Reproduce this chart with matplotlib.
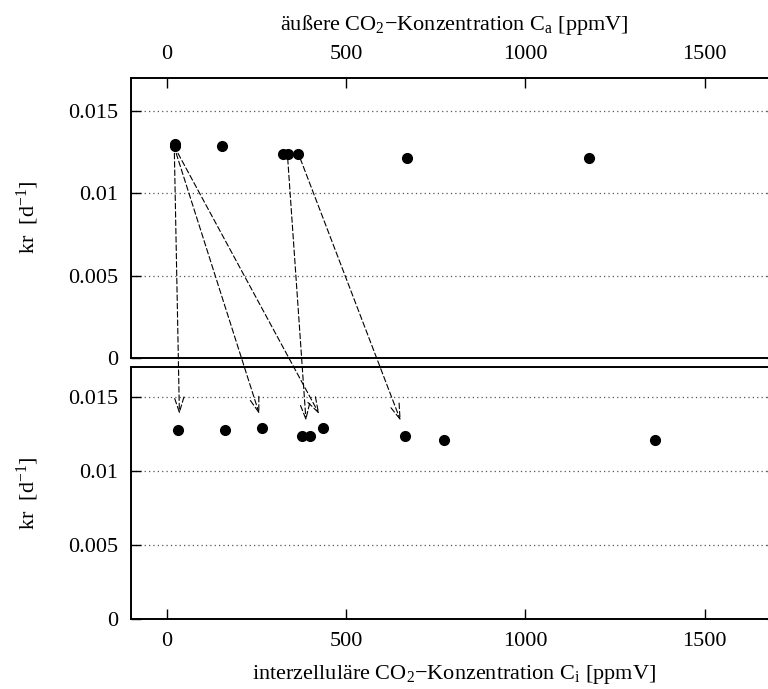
import matplotlib
matplotlib.use("Agg")
import matplotlib.pyplot as plt
from matplotlib.patches import ConnectionPatch

# ── Data ─────────────────────────────────────────────────────────────
# top panel: kr over external CO2 concentration Ca
ca_ppm = [22, 22, 155, 325, 337, 367, 671, 1178]
kr_ca  = [0.01300, 0.01285, 0.01284, 0.01239, 0.01239, 0.01239, 0.01215, 0.01213]

# bottom panel: kr over intercellular CO2 concentration Ci
ci_ppm = [32, 162, 266, 376, 399, 435, 664, 774, 1360]
kr_ci  = [0.01279, 0.01279, 0.01290, 0.01234, 0.01234, 0.01290, 0.01234, 0.01210, 0.01210]

# arrows Ca -> Ci (start in top panel, end in bottom panel)
arrow_ca    = [21, 26, 31, 337, 372]
arrow_kr_a  = [0.01241, 0.01241, 0.01241, 0.01209, 0.01209]
arrow_ci    = [35, 258, 425, 388, 652]
arrow_kr_i  = [0.01384, 0.01384, 0.01384, 0.01339, 0.01339]

xticks = [0, 500, 1000, 1500]
yticks = [0, 0.005, 0.01, 0.015]
ytick_labels = ["0", "0.005", "0.01", "0.015"]

plt.rcParams["font.family"] = ["Liberation Serif", "DejaVu Serif"]
plt.rcParams["mathtext.default"] = "regular"
FS = 16

fig = plt.figure(figsize=(7.68, 6.89), dpi=100)
W, H = 768, 689


def px_axes(left, right, top, bottom):
    return fig.add_axes([left / W, 1 - bottom / H, (right - left) / W, (bottom - top) / H])


ax_top = px_axes(131, 776.5, 77.5, 358.3)
ax_bot = px_axes(131, 776.5, 367.3, 619.3)

for ax in (ax_top, ax_bot):
    ax.set_xlim(-100, 1700)
    ax.set_ylim(0, 0.017)
    ax.set_xticks(xticks)
    ax.set_yticks(yticks)
    ax.set_yticklabels(ytick_labels)
    ax.tick_params(axis="both", direction="in", length=7.2, width=1.0,
                   labelsize=FS, pad=9.5)
    ax.tick_params(axis="y", left=True, right=True)
    for s in ax.spines.values():
        s.set_linewidth(1.4)
    ax.yaxis.grid(True, linestyle=(0, (1, 2.5)), color="#555555", linewidth=0.9)
    ax.set_axisbelow(True)
    ax.set_ylabel(r"kr  [d$^{-1}$]", fontsize=FS, labelpad=19)

ax_top.tick_params(axis="x", top=True, bottom=False, labeltop=True, labelbottom=False)
ax_top.xaxis.set_label_position("top")
ax_top.set_xlabel(r"äußere CO$_2$−Konzentration C$_a$ [ppmV]", fontsize=FS, labelpad=11)

ax_bot.tick_params(axis="x", top=False, bottom=True)
ax_bot.set_xlabel(r"interzelluläre CO$_2$−Konzentration C$_i$ [ppmV]", fontsize=FS, labelpad=8.5)

ax_top.plot(ca_ppm, kr_ca, "o", color="black", markersize=7, zorder=3)
ax_bot.plot(ci_ppm, kr_ci, "o", color="black", markersize=7, zorder=3)

for xa, ya, xb, yb in zip(arrow_ca, arrow_kr_a, arrow_ci, arrow_kr_i):
    con = ConnectionPatch(
        xyA=(xa, ya), coordsA=ax_top.transData,
        xyB=(xb, yb), coordsB=ax_bot.transData,
        arrowstyle="->,head_length=1.1,head_width=0.35", mutation_scale=10,
        linestyle=(0, (5, 2.5)), linewidth=0.8, color="black",
        shrinkA=0, shrinkB=0,
    )
    fig.add_artist(con)

fig.savefig("out.png", dpi=100, facecolor="white")
